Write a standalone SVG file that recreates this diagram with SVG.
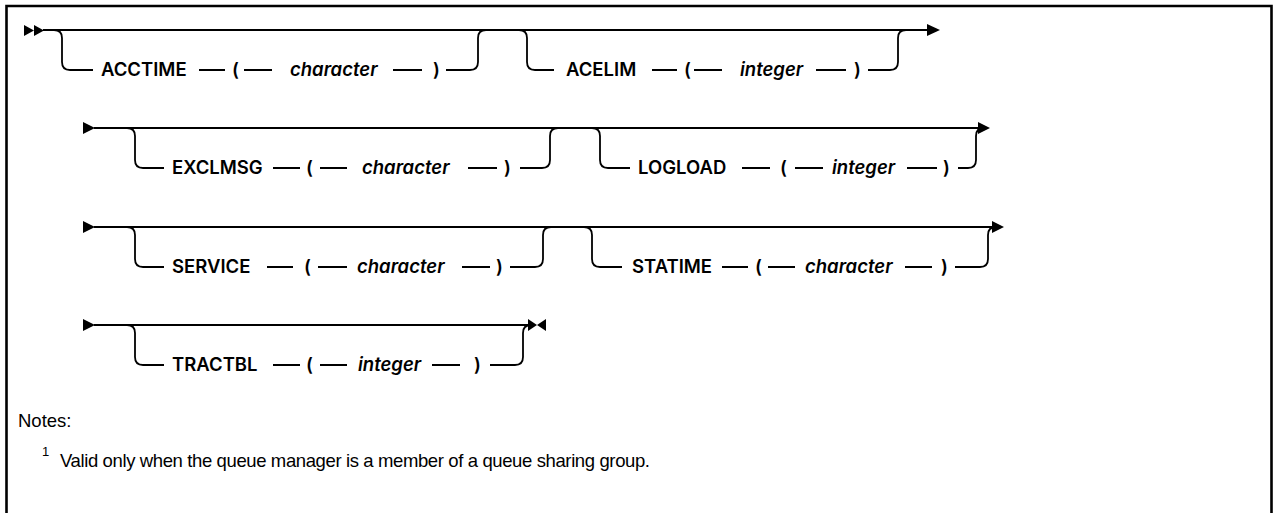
<svg xmlns="http://www.w3.org/2000/svg" width="1274" height="513" viewBox="0 0 1274 513">
<style>
.ln{fill:none;stroke:#000;stroke-width:1.8}
.ah{fill:#000}
.kw{font-family:Inter,"Liberation Sans",Arial,sans-serif;font-size:18.5px;font-weight:600;fill:#000}
.var{font-family:Inter,"Liberation Sans",Arial,sans-serif;font-size:18.5px;font-weight:600;font-style:italic;fill:#000}
.note{font-family:"Liberation Sans",Arial,sans-serif;font-size:18.5px;fill:#000}
.sup{font-family:"Liberation Sans",Arial,sans-serif;font-size:13px;fill:#000}
</style>
<rect width="1274" height="513" fill="#fff"/>
<path d="M6.5 513 V6 H1271.5 V513" fill="none" stroke="#000" stroke-width="2.6"/>
<g id="connectors">
<!-- row 1 -->
<polygon class="ah" points="24,25 34,30.5 24,36"/>
<polygon class="ah" points="34,25 44,30.5 34,36"/>
<path class="ln" d="M43 30 H928"/>
<polygon class="ah" points="927,24 940,30 927,36"/>
<path class="ln" d="M54 30 Q62 30 62 38 V62 Q62 70 70 70 H93"/>
<path class="ln" d="M199 70 H225 M244 70 H272 M393 70 H422 M446 70 H470 Q478 70 478 62 V38 Q478 30 486 30"/>
<path class="ln" d="M519 30 Q527 30 527 38 V62 Q527 70 535 70 H554"/>
<path class="ln" d="M652 70 H677 M694 70 H722 M816 70 H846 M868 70 H890 Q898 70 898 62 V38 Q898 30 906 30"/>
<!-- row 2 -->
<polygon class="ah" points="83,122 95,128 83,134"/>
<path class="ln" d="M94 128 H980"/>
<polygon class="ah" points="978,122 990,128 978,134"/>
<path class="ln" d="M127 128 Q135 128 135 136 V160 Q135 168 143 168 H164"/>
<path class="ln" d="M273 168 H300 M320 168 H347 M468 168 H497 M520 168 H542 Q550 168 550 160 V136 Q550 128 558 128"/>
<path class="ln" d="M592 128 Q600 128 600 136 V160 Q600 168 608 168 H630"/>
<path class="ln" d="M742 168 H770 M795 168 H823 M907 168 H937 M958 168 H968 Q976 168 976 160 V136 Q976 128 984 128"/>
<!-- row 3 -->
<polygon class="ah" points="83,221 95,227 83,233"/>
<path class="ln" d="M94 227 H994"/>
<polygon class="ah" points="992,221 1004,227 992,233"/>
<path class="ln" d="M127 227 Q135 227 135 235 V259 Q135 267 143 267 H164"/>
<path class="ln" d="M267 267 H293 M318 267 H347 M462 267 H490 M510 267 H535 Q543 267 543 259 V235 Q543 227 551 227"/>
<path class="ln" d="M584 227 Q592 227 592 235 V259 Q592 267 600 267 H622"/>
<path class="ln" d="M722 267 H748 M768 267 H795 M905 267 H932 M955 267 H980 Q988 267 988 259 V235 Q988 227 996 227"/>
<!-- row 4 -->
<polygon class="ah" points="83,319 95,325 83,331"/>
<path class="ln" d="M94 325 H530"/>
<polygon class="ah" points="528,319 537,325 528,331"/>
<polygon class="ah" points="546,319 537,325 546,331"/>
<path class="ln" d="M127 325 Q135 325 135 333 V357 Q135 365 143 365 H164"/>
<path class="ln" d="M273 365 H300 M320 365 H347 M432 365 H460 M490 365 H515 Q523 365 523 357 V333 Q523 325 531 325"/>
</g>
<g id="acctime"><text class="kw" x="101" y="76">ACCTIME</text><text class="kw" x="232" y="76">(</text><text class="var" x="290" y="76">character</text><text class="kw" x="433" y="76">)</text></g>
<g id="acelim"><text class="kw" x="566" y="76">ACELIM</text><text class="kw" x="684" y="76">(</text><text class="var" x="740" y="76">integer</text><text class="kw" x="854" y="76">)</text></g>
<g id="exclmsg"><text class="kw" x="172" y="174">EXCLMSG</text><text class="kw" x="306" y="174">(</text><text class="var" x="362" y="174">character</text><text class="kw" x="504" y="174">)</text></g>
<g id="logload"><text class="kw" x="638" y="174">LOGLOAD</text><text class="kw" x="780" y="174">(</text><text class="var" x="832" y="174">integer</text><text class="kw" x="943" y="174">)</text></g>
<g id="service"><text class="kw" x="172" y="273">SERVICE</text><text class="kw" x="304" y="273">(</text><text class="var" x="357" y="273">character</text><text class="kw" x="496" y="273">)</text></g>
<g id="statime"><text class="kw" x="632" y="273">STATIME</text><text class="kw" x="755" y="273">(</text><text class="var" x="805" y="273">character</text><text class="kw" x="941" y="273">)</text></g>
<g id="tractbl"><text class="kw" x="172" y="371">TRACTBL</text><text class="kw" x="306" y="371">(</text><text class="var" x="358" y="371">integer</text><text class="kw" x="474" y="371">)</text></g>
<g id="notes"><text class="note" x="18" y="427">Notes:</text><text class="sup" x="42" y="456">1</text><text class="note" x="60" y="467" textLength="590">Valid only when the queue manager is a member of a queue sharing group.</text></g>
</svg>
